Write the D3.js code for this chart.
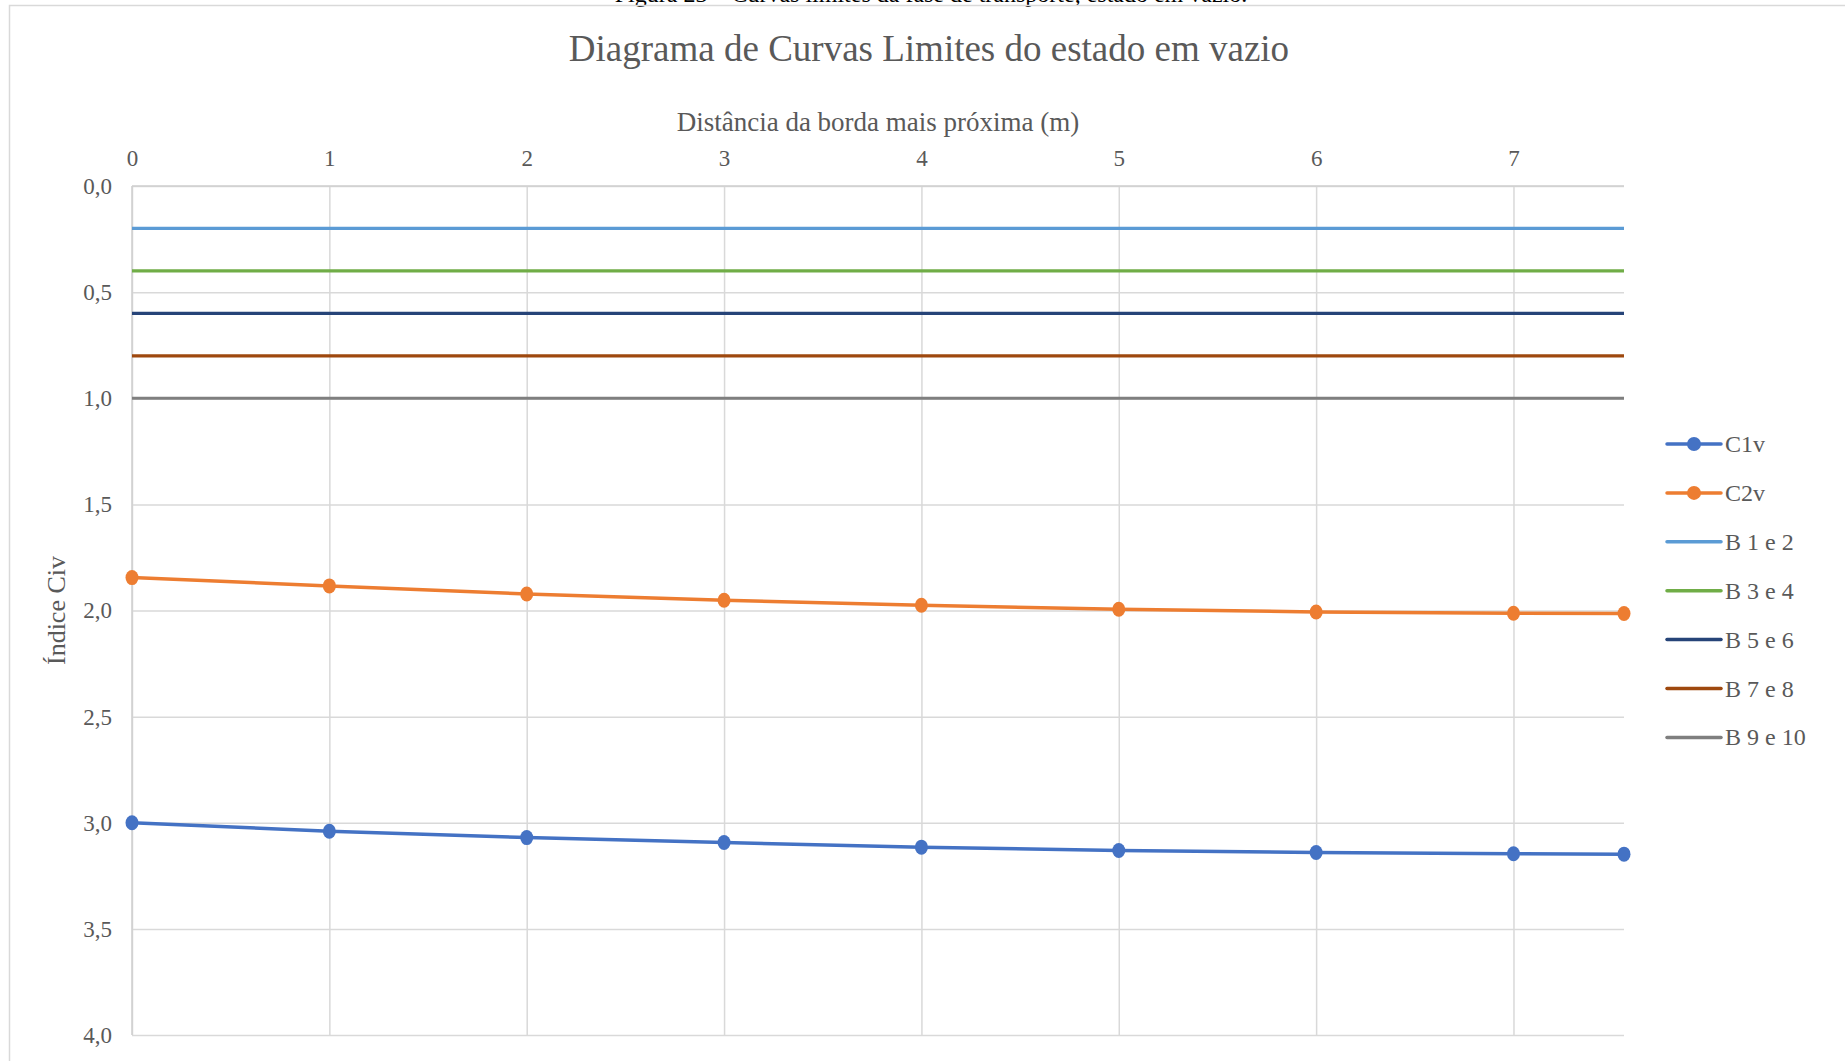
<!DOCTYPE html>
<html>
<head>
<meta charset="utf-8">
<script src="https://cdn.jsdelivr.net/npm/d3@7"></script>
<style>
  body { margin: 0; background: #fff; }
  svg { display: block; }
  text { font-family: "Liberation Serif", "Times New Roman", serif; fill: #595959; }
  .tick text { font-size: 23px; }
  .title { font-size: 37px; }
  .axis-label { font-size: 27px; }
  .legend text { font-size: 24px; }
</style>
</head>
<body>
<svg width="1845" height="1061"></svg>
<script>
// distância da borda (m)
const distances = [0, 1, 2, 3, 4, 5, 6, 7, 7.56];
// curvas limites
const c1v = [3.00, 3.04, 3.07, 3.093, 3.115, 3.131, 3.14, 3.146, 3.148];
const c2v = [1.845, 1.884, 1.922, 1.952, 1.975, 1.994, 2.007, 2.013, 2.014];
// limites das bandas
const bandNames = ['B 1 e 2', 'B 3 e 4', 'B 5 e 6', 'B 7 e 8', 'B 9 e 10'];
const bandValues = [0.2, 0.4, 0.6, 0.8, 1.0];
const xTicks = [0, 1, 2, 3, 4, 5, 6, 7];
const yTicks = [0, 0.5, 1, 1.5, 2, 2.5, 3, 3.5, 4];

const caption = 'Figura 23 – Curvas limites da fase de transporte, estado em vazio.';
const title = 'Diagrama de Curvas Limites do estado em vazio';
const xAxisLabel = 'Distância da borda mais próxima (m)';
const yAxisLabel = 'Índice Civ';

const colors = {
  'C1v': '#4472C4', 'C2v': '#ED7D31',
  'B 1 e 2': '#5B9BD5', 'B 3 e 4': '#70AD47', 'B 5 e 6': '#264478',
  'B 7 e 8': '#9E480E', 'B 9 e 10': '#7F7F7F'
};

const svg = d3.select('svg');
const width = +svg.attr('width');
const height = +svg.attr('height');

const margin = { top: 186, right: 221, bottom: 26, left: 132 };
const innerWidth = width - margin.left - margin.right;
const innerHeight = height - margin.top - margin.bottom;

// caption cut by the page top, and the chart frame
svg.append('text')
  .attr('x', 931).attr('y', 2)
  .attr('text-anchor', 'middle')
  .style('fill', '#000').style('font-size', '24px')
  .text(caption);

svg.append('rect')
  .attr('x', 9.5).attr('y', 5.5)
  .attr('width', width + 20).attr('height', height + 20)
  .attr('fill', 'none').attr('stroke', '#d9d9d9').attr('stroke-width', 1.5);

const xScale = d3.scaleLinear()
  .domain([0, d3.max(distances)])
  .range([0, innerWidth]);

const yScale = d3.scaleLinear()
  .domain([0, 4])
  .range([0, innerHeight]);

const g = svg.append('g')
  .attr('transform', `translate(${margin.left}, ${margin.top})`);

const fmt = d => d3.format('.1f')(d).replace('.', ',');

// y axis with horizontal gridlines
const yAxisG = g.append('g').call(
  d3.axisLeft(yScale).tickValues(yTicks).tickFormat(fmt)
    .tickSize(-innerWidth).tickPadding(20)
);
yAxisG.select('.domain').remove();
yAxisG.selectAll('.tick line').attr('stroke', '#d9d9d9').attr('stroke-width', 1.5);

// x axis on top with vertical gridlines
const xAxisG = g.append('g').call(
  d3.axisTop(xScale).tickValues(xTicks)
    .tickSize(-innerHeight).tickPadding(20)
);
xAxisG.select('.domain').remove();
xAxisG.selectAll('.tick line').attr('stroke', '#d9d9d9').attr('stroke-width', 1.5);
xAxisG.selectAll('.tick text').attr('dy', '0');

// axis lines
g.append('line')
  .attr('x1', 0).attr('x2', 0).attr('y1', 0).attr('y2', innerHeight)
  .attr('stroke', '#cfcfcf').attr('stroke-width', 1.5);
g.append('line')
  .attr('x1', 0).attr('x2', innerWidth).attr('y1', 0).attr('y2', 0)
  .attr('stroke', '#cfcfcf').attr('stroke-width', 1.5);

svg.selectAll('.tick text').style('fill', '#595959');

// band lines
bandValues.forEach((v, i) => {
  g.append('line')
    .attr('x1', xScale(0)).attr('x2', xScale(d3.max(distances)))
    .attr('y1', yScale(v)).attr('y2', yScale(v))
    .attr('stroke', colors[bandNames[i]])
    .attr('stroke-width', 3.2);
});

// curves
const line = d3.line()
  .x((d, i) => xScale(distances[i]))
  .y(d => yScale(d));

[['C2v', c2v], ['C1v', c1v]].forEach(([name, vals]) => {
  g.append('path')
    .datum(vals)
    .attr('fill', 'none')
    .attr('stroke', colors[name])
    .attr('stroke-width', 3.5)
    .attr('stroke-linejoin', 'round')
    .attr('d', line);
  g.selectAll(null).data(vals).enter().append('ellipse')
    .attr('cx', (d, i) => xScale(distances[i]))
    .attr('cy', d => yScale(d))
    .attr('rx', 6.5).attr('ry', 7.5)
    .attr('fill', colors[name]);
});

// titles
svg.append('text')
  .attr('class', 'title')
  .attr('x', 929).attr('y', 48)
  .attr('text-anchor', 'middle')
  .attr('dominant-baseline', 'central')
  .text(title);

svg.append('text')
  .attr('class', 'axis-label')
  .attr('x', margin.left + innerWidth / 2).attr('y', 122)
  .attr('text-anchor', 'middle')
  .attr('dominant-baseline', 'central')
  .text(xAxisLabel);

svg.append('text')
  .attr('class', 'axis-label')
  .attr('transform', `translate(56, ${margin.top + innerHeight / 2}) rotate(-90)`)
  .attr('text-anchor', 'middle')
  .attr('dominant-baseline', 'central')
  .style('font-size', '26px')
  .text(yAxisLabel);

// legend
const legendNames = ['C1v', 'C2v'].concat(bandNames);
const legend = svg.append('g')
  .attr('class', 'legend')
  .attr('transform', 'translate(1667, 444)');

legendNames.forEach((name, i) => {
  const row = legend.append('g').attr('transform', `translate(0, ${i * 48.9})`);
  row.append('line')
    .attr('x1', 0).attr('x2', 54)
    .attr('stroke', colors[name]).attr('stroke-width', 3.5)
    .attr('stroke-linecap', 'round');
  if (i < 2) {
    row.append('circle').attr('cx', 27).attr('r', 7).attr('fill', colors[name]);
  }
  row.append('text')
    .attr('x', 58).attr('dominant-baseline', 'central')
    .text(name);
});
</script>
</body>
</html>
